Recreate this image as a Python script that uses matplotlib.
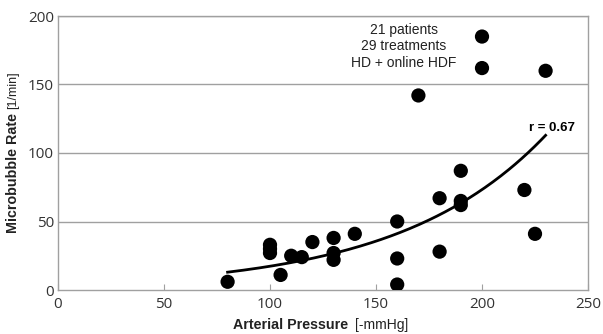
import numpy as np
import matplotlib
matplotlib.use("Agg")
import matplotlib.pyplot as plt

pressure = [80, 100, 100, 100, 105, 110, 115, 120, 130, 130, 130, 140, 160, 160, 160,
            170, 180, 180, 190, 190, 190, 200, 200, 220, 225, 230]
rate = [6, 33, 30, 27, 11, 25, 24, 35, 38, 27, 22, 41, 50, 23, 4,
        142, 67, 28, 87, 65, 62, 185, 162, 73, 41, 160]
fit_a = 13.0 / np.exp(0.01441 * 80)
fit_b = 0.01441
fit_range = [80, 230]
x_ticks = [0, 50, 100, 150, 200, 250]
y_ticks = [0, 50, 100, 150, 200]

plt.rcParams['font.family'] = ['Liberation Sans', 'DejaVu Sans']
fig = plt.figure(figsize=(6.03, 3.34), dpi=100)
ax = fig.add_axes([58/603, 44/334, 530/603, 274/334])

ax.set_xlim(0, 250)
ax.set_ylim(0, 200)
for y in y_ticks[1:]:
    ax.axhline(y, color='#a0a0a0', lw=1.0, zorder=1)
for s in ax.spines.values():
    s.set_color('#a0a0a0')
    s.set_linewidth(1.0)

ax.scatter(pressure, rate, s=105, color='black', zorder=3, edgecolors='none')
xf = np.linspace(fit_range[0], fit_range[1], 200)
ax.plot(xf, fit_a * np.exp(fit_b * xf), color='black', lw=2, zorder=2)

ax.set_xticks(x_ticks)
ax.set_yticks(y_ticks)
ax.tick_params(axis='x', direction='in', length=4, color='#a0a0a0', labelsize=11,
               labelcolor='#333333', pad=5)
ax.tick_params(axis='y', length=0, labelsize=11, labelcolor='#333333', pad=3)
for lbl in ax.get_xticklabels() + ax.get_yticklabels():
    lbl.set_family(['Open Sans', 'DejaVu Sans'])

ax.text(163, 190, "21 patients", ha='center', va='center', fontsize=10, color='#222222')
ax.text(163, 178, "29 treatments", ha='center', va='center', fontsize=10, color='#222222')
ax.text(163, 166, "HD + online HDF", ha='center', va='center', fontsize=10, color='#222222')
ax.text(233, 118, "r = 0.67", ha='center', va='center', fontsize=9.5, fontweight='bold')

fig.text(0.577, 0.028, r"Arterial Pressure", ha='right', va='center', fontsize=10.3, fontweight='bold', color='#222222')
fig.text(0.589, 0.028, "[-mmHg]", ha='left', va='center', fontsize=10, color='#222222')
fig.text(0.022, 0.662, "Microbubble Rate", ha='center', va='top', rotation=90, fontsize=10.3, fontweight='bold', color='#222222')
fig.text(0.022, 0.674, "[1/min]", ha='center', va='bottom', rotation=90, fontsize=9, color='#222222')

fig.savefig("out.png", dpi=100)
